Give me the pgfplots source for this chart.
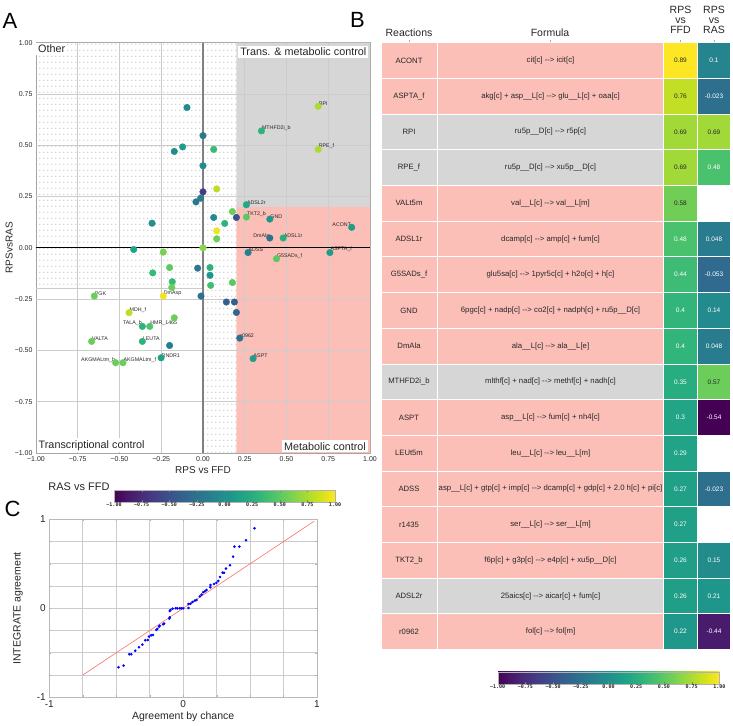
\documentclass[border=0pt]{standalone}
\usepackage{pgfplots}
\pgfplotsset{compat=1.18}
\usepackage{pgfplotstable}
\usepackage{fontspec}
\setmainfont{Liberation Sans}
\newfontfamily\cbfont{DejaVu Sans Mono}
\usetikzlibrary{patterns.meta}
\definecolor{salm}{RGB}{251,191,184}
\definecolor{lgr}{RGB}{214,214,214}
\definecolor{dk}{RGB}{38,38,38}
\definecolor{gridc}{RGB}{204,204,204}
\definecolor{dotc}{RGB}{135,135,135}
\tikzdeclarepattern{
  name=sdots, type=uncolored,
  bottom left={(0pt,0pt)}, top right={(4.3pt,6.3pt)},
  tile size={(4.3pt,6.3pt)},
  code={\pgfpathcircle{\pgfpoint{2.15pt}{3.15pt}}{0.55pt}\pgfusepath{fill}}
}
\pgfdeclareplotmark{namecell}{\pgfpathrectangle{\pgfpoint{-28pt}{-17.85pt}}{\pgfpoint{56pt}{35.7pt}}\pgfusepathqfillstroke}
\pgfdeclareplotmark{formcell}{\pgfpathrectangle{\pgfpoint{-113.5pt}{-17.85pt}}{\pgfpoint{227pt}{35.7pt}}\pgfusepathqfillstroke}
\pgfdeclareplotmark{heatcell}{\pgfpathrectangle{\pgfpoint{-16.6pt}{-17.85pt}}{\pgfpoint{33.2pt}{35.7pt}}\pgfusepathqfillstroke}
\newcommand{\ar}{-{}->}
\newcommand{\us}{\_\_}
\newcommand{\fs}[1]{\fontsize{#1}{#1}\selectfont}
\tikzset{lr/.style={anchor=south west, inner sep=0.4pt, font=\fs{5.3}, text=dk},
         ll/.style={anchor=south east, inner sep=0.4pt, font=\fs{5.3}, text=dk},
         rbox/.style={fill=white, inner sep=2pt, font=\fs{10.8}, text=dk},
         tn/.style={font=\fs{7.7}, text=dk},
         tf/.style={font=\fs{7.75}, text=dk, inner sep=0pt}}

\pgfplotstableread{
x y c
-0.096 0.684 -0.05
0.35 0.57 0.3
0.69 0.69 0.75
0.69 0.48 0.75
0.000 0.547 -0.2
-0.122 0.492 0.1
-0.172 0.470 -0.05
0.064 0.480 0.35
0.000 0.400 -0.05
0.000 0.273 -0.65
0.082 0.287 0.8
-0.014 0.242 -0.15
-0.042 0.224 -0.2
0.26 0.21 0.2
0.176 0.177 0.55
0.26 0.15 0.5
0.40 0.14 0.05
0.200 0.148 -0.5
0.064 0.148 -0.05
0.130 0.119 0.3
-0.305 0.120 0.0
0.082 0.083 0.95
0.082 0.044 0.55
0.89 0.10 0.1
0.40 0.048 -0.25
0.48 0.048 0.25
-0.415 -0.008 0.15
0.000 0.000 0.65
-0.238 -0.021 0.6
0.27 -0.023 -0.15
0.44 -0.053 0.5
0.76 -0.023 0.1
-0.032 -0.099 -0.2
0.042 -0.096 0.3
-0.200 -0.096 0.5
-0.301 -0.122 0.35
0.042 -0.134 0.05
-0.184 -0.165 0.35
-0.187 -0.193 0.55
0.046 -0.183 0.4
0.176 -0.169 0.5
-0.651 -0.235 0.55
-0.238 -0.235 0.95
-0.012 -0.235 -0.25
0.140 -0.264 -0.4
0.188 -0.264 -0.4
0.200 -0.315 -0.35
-0.443 -0.316 0.8
-0.172 -0.341 0.55
-0.363 -0.383 0.3
-0.319 -0.383 0.45
0.22 -0.44 -0.25
-0.667 -0.456 0.55
-0.363 -0.456 0.3
-0.200 -0.476 -0.15
0.30 -0.54 0.1
-0.251 -0.536 0.15
-0.523 -0.560 0.55
-0.479 -0.560 0.55
}\scatA

\pgfplotstableread{
x y
0.533 0.899
0.470 0.764
0.420 0.693
0.383 0.693
0.373 0.580
0.350 0.483
0.320 0.446
0.305 0.400
0.295 0.400
0.275 0.352
0.263 0.307
0.248 0.285
0.230 0.273
0.205 0.262
0.203 0.236
0.175 0.206
0.163 0.191
0.150 0.180
0.138 0.154
0.125 0.135
0.100 0.094
0.088 0.086
0.070 0.071
0.055 0.052
0.040 0.049
0.040 0.004
0.000 0.000
-0.013 0.000
-0.025 0.000
-0.043 0.000
-0.055 0.000
-0.078 -0.004
-0.095 -0.019
-0.100 -0.030
-0.100 -0.100
-0.103 -0.116
-0.143 -0.172
-0.150 -0.180
-0.175 -0.195
-0.180 -0.206
-0.193 -0.232
-0.200 -0.243
-0.225 -0.300
-0.238 -0.303
-0.255 -0.318
-0.265 -0.356
-0.283 -0.360
-0.305 -0.408
-0.330 -0.438
-0.358 -0.476
-0.388 -0.517
-0.403 -0.517
-0.445 -0.644
-0.483 -0.663
}\scatC

\pgfplotstableread{
xn xf y c
409 550.5 0 s
409 550.5 1 s
409 550.5 2 g
409 550.5 3 g
409 550.5 4 s
409 550.5 5 s
409 550.5 6 s
409 550.5 7 s
409 550.5 8 s
409 550.5 9 g
409 550.5 10 s
409 550.5 11 s
409 550.5 12 s
409 550.5 13 s
409 550.5 14 s
409 550.5 15 g
409 550.5 16 s
}\rows

% heat cells with dark text
\pgfplotstableread{
x y v lab
680.5 0 0.89 0.89
680.5 1 0.76 0.76
680.5 2 0.69 0.69
714 2 0.69 0.69
680.5 3 0.69 0.69
680.5 4 0.58 0.58
714 9 0.57 0.57
}\heatD

% heat cells with white text
\pgfplotstableread{
x y v lab
714 0 0.1 0.1
714 1 -0.023 -0.023
714 3 0.48 0.48
680.5 5 0.48 0.48
714 5 0.048 0.048
680.5 6 0.44 0.44
714 6 -0.053 -0.053
680.5 7 0.4 0.4
714 7 0.14 0.14
680.5 8 0.4 0.4
714 8 0.048 0.048
680.5 9 0.35 0.35
680.5 10 0.3 0.3
714 10 -0.54 -0.54
680.5 11 0.29 0.29
680.5 12 0.27 0.27
714 12 -0.023 -0.023
680.5 13 0.27 0.27
680.5 14 0.26 0.26
714 14 0.15 0.15
680.5 15 0.26 0.26
714 15 0.21 0.21
680.5 16 0.22 0.22
714 16 -0.44 -0.44
}\heatW

\begin{document}
\begin{tikzpicture}[x=1pt,y=1pt]
\useasboundingbox (0,0) rectangle (733,725);

% panel letters
\node[font=\fs{22}, text=black] at (10,704.5) {A};
\node[font=\fs{22}, text=black] at (357.5,705) {B};
\node[font=\fs{22}, text=black] at (12.5,216.5) {C};

% ---------------- Panel A ----------------
\begin{axis}[at={(36pt,272pt)}, anchor=south west, scale only axis,
  width=334pt, height=410.3pt,
  xmin=-1, xmax=1, ymin=-1, ymax=1,
  xtick={-1,-0.75,-0.5,-0.25,0,0.25,0.5,0.75,1},
  ytick={-1,-0.75,-0.5,-0.25,0,0.25,0.5,0.75,1},
  xticklabels={−1.00,−0.75,−0.50,−0.25,0.00,0.25,0.50,0.75,1.00},
  yticklabels={−1.00,−0.75,−0.50,−0.25,0.00,0.25,0.50,0.75,1.00},
  tick label style={font=\fs{7}, text=dk},
  major tick length=0pt,
  axis line style={gray!70, line width=0.8pt},
  xlabel={RPS vs FFD}, xlabel style={font=\fs{10}, text=dk, at={(axis description cs:0.5,-0.042)}, anchor=center},
  ylabel={RPSvsRAS}, ylabel style={font=\fs{10}, text=dk, at={(axis description cs:-0.08,0.5)}, anchor=center},
  colormap/viridis, point meta min=-1, point meta max=1]
\addplot[draw=none, fill=lgr, mark=none] coordinates {(0.2,0.2) (1,0.2) (1,1) (0.2,1) (0.2,0.2)};
\addplot[draw=none, fill=salm, mark=none] coordinates {(0.2,-1) (1,-1) (1,0.2) (0.2,0.2) (0.2,-1)};
\addplot[draw=none, pattern=sdots, pattern color=dotc, mark=none] coordinates {(-1,1) (0.2,1) (0.2,-1) (0,-1) (0,-0.2) (-1,-0.2) (-1,1)};
% grid lines
\addplot[gridc, line width=0.8pt, mark=none] coordinates {(-0.75,-1) (-0.75,1)};
\addplot[gridc, line width=0.8pt, mark=none] coordinates {(-0.5,-1) (-0.5,1)};
\addplot[gridc, line width=0.8pt, mark=none] coordinates {(-0.25,-1) (-0.25,1)};
\addplot[gridc, line width=0.8pt, mark=none] coordinates {(0.25,-1) (0.25,1)};
\addplot[gridc, line width=0.8pt, mark=none] coordinates {(0.5,-1) (0.5,1)};
\addplot[gridc, line width=0.8pt, mark=none] coordinates {(0.75,-1) (0.75,1)};
\addplot[gridc, line width=0.8pt, mark=none] coordinates {(-1,-0.75) (1,-0.75)};
\addplot[gridc, line width=0.8pt, mark=none] coordinates {(-1,-0.5) (1,-0.5)};
\addplot[gridc, line width=0.8pt, mark=none] coordinates {(-1,-0.25) (1,-0.25)};
\addplot[gridc, line width=0.8pt, mark=none] coordinates {(-1,0.25) (1,0.25)};
\addplot[gridc, line width=0.8pt, mark=none] coordinates {(-1,0.5) (1,0.5)};
\addplot[gridc, line width=0.8pt, mark=none] coordinates {(-1,0.75) (1,0.75)};
\addplot[gridc, line width=0.8pt, mark=none] coordinates {(-1,-0.2) (0,-0.2)};
\addplot[gray, line width=1.6pt, mark=none] coordinates {(0,-1) (0,1)};
\addplot[black, line width=0.8pt, mark=none] coordinates {(-1,0) (1,0)};
\node[rbox, anchor=north west] at (axis cs:-1,1) {Other};
\node[rbox, anchor=north east, xshift=-1.5pt, yshift=-3pt] at (axis cs:1,1) {Trans. \& metabolic control};
\node[rbox, anchor=south west, xshift=0.5pt, yshift=0.5pt] at (axis cs:-1,-1) {Transcriptional control};
\node[rbox, anchor=south east, xshift=-2pt, yshift=0.5pt] at (axis cs:1,-1) {Metabolic control};
\addplot[scatter, only marks, mark=*, mark size=3.3pt, point meta=explicit,
  scatter/use mapped color={draw=mapped color, fill=mapped color}] table[x=x, y=y, meta=c] {\scatA};
\node[lr] at (axis cs:0.69,0.69) {RPI};
\node[lr] at (axis cs:0.69,0.48) {RPE\_f};
\node[lr] at (axis cs:0.35,0.57) {MTHFD2i\_b};
\node[lr] at (axis cs:0.26,0.21) {ADSL2r};
\node[lr] at (axis cs:0.26,0.15) {TKT2\_b};
\node[lr] at (axis cs:0.40,0.14) {GND};
\node[lr] at (axis cs:0.48,0.048) {ADSL1r};
\node[lr] at (axis cs:0.27,-0.023) {ADSS};
\node[lr] at (axis cs:0.44,-0.053) {G5SADs\_f};
\node[lr] at (axis cs:0.76,-0.023) {ASPTA\_f};
\node[lr] at (axis cs:-0.651,-0.235) {PGK};
\node[lr] at (axis cs:-0.238,-0.235) {DmAsp};
\node[lr] at (axis cs:-0.443,-0.316) {MDH\_f};
\node[lr] at (axis cs:-0.319,-0.383) {HMR\_1465};
\node[lr] at (axis cs:0.22,-0.44) {r0962};
\node[lr] at (axis cs:-0.667,-0.456) {VALTA};
\node[lr] at (axis cs:-0.363,-0.456) {LEUTA};
\node[lr] at (axis cs:0.30,-0.54) {ASPT};
\node[lr] at (axis cs:-0.251,-0.536) {RNDR1};
\node[lr] at (axis cs:-0.479,-0.560) {AKGMALtm\_f};
\node[ll] at (axis cs:0.89,0.10) {ACONT};
\node[ll] at (axis cs:0.40,0.048) {DmAla};
\node[ll] at (axis cs:-0.363,-0.383) {TALA\_b};
\node[ll] at (axis cs:-0.523,-0.560) {AKGMALtm\_b};
\end{axis}

% colorbar A
\node[font=\fs{11}, text=dk] at (79,238) {RAS vs FFD};
\begin{axis}[at={(114pt,231.7pt)}, anchor=south west, scale only axis,
  width=221pt, height=11.6pt, hide axis, xmin=0, xmax=1, ymin=0, ymax=1,
  colormap/viridis, point meta min=-1, point meta max=1,
  colorbar horizontal,
  colorbar style={at={(parent axis.south west)}, anchor=south west,
    scale only axis, width=221pt, height=11.6pt,
    xtick={-1,-0.75,-0.5,-0.25,0,0.25,0.5,0.75,1},
    xticklabels={−1.00,−0.75,−0.50,−0.25,0.00,0.25,0.50,0.75,1.00},
    xticklabel style={font=\cbfont\bfseries\fs{5}, text=dk, inner sep=1pt},
    major tick length=1.5pt, axis line style={gray!60}}]
\addplot[draw=none, mark=none] coordinates {(0.5,0.5)};
\end{axis}

% ---------------- Panel B ----------------
\node[font=\fs{10.5}, text=dk] at (409,692) {Reactions};
\node[font=\fs{10.5}, text=dk] at (550,692) {Formula};
\node[font=\fs{10.5}, text=dk, align=center] at (680.5,705) {RPS\\[-0.5pt]vs\\[-0.5pt]FFD};
\node[font=\fs{10.5}, text=dk, align=center] at (714,705) {RPS\\[-0.5pt]vs\\[-0.5pt]RAS};
\draw[gray!70, line width=0.6pt] (409,682.3) -- (409,685) (550.5,682.3) -- (550.5,685)
  (680.5,682.3) -- (680.5,685) (714,682.3) -- (714,685);

\begin{axis}[at={(381pt,75.4pt)}, anchor=south west, scale only axis,
  width=350pt, height=606.9pt, hide axis, clip=false,
  xmin=381, xmax=731, ymin=-0.5, ymax=16.5, y dir=reverse,
  colormap/viridis, point meta min=-0.54, point meta max=0.89]
\addplot[scatter, only marks, mark=namecell, point meta=explicit symbolic,
  scatter/classes={s={fill=salm, draw=white}, g={fill=lgr, draw=white}},
  mark options={line width=1pt}] table[x=xn, y=y, meta=c] {\rows};
\addplot[scatter, only marks, mark=formcell, point meta=explicit symbolic,
  scatter/classes={s={fill=salm, draw=white}, g={fill=lgr, draw=white}},
  mark options={line width=1pt}] table[x=xf, y=y, meta=c] {\rows};
\addplot[scatter, only marks, mark=heatcell, point meta=explicit,
  scatter/use mapped color={draw=white, fill=mapped color},
  mark options={line width=1pt}] table[x=x, y=y, meta=v] {\heatD};
\addplot[scatter, only marks, mark=heatcell, point meta=explicit,
  scatter/use mapped color={draw=white, fill=mapped color},
  mark options={line width=1pt}] table[x=x, y=y, meta=v] {\heatW};
\addplot[only marks, mark=none, point meta=explicit symbolic, nodes near coords,
  every node near coord/.append style={anchor=center, font=\fs{6.5}, text=dk}]
  table[x=x, y=y, meta=lab] {\heatD};
\addplot[only marks, mark=none, point meta=explicit symbolic, nodes near coords,
  every node near coord/.append style={anchor=center, font=\fs{6.5}, text=white}]
  table[x=x, y=y, meta=lab] {\heatW};
\end{axis}

% table text (reaction names and formulas)
\node[tn] at (409,664.45) {ACONT};
\node[tn] at (409,628.75) {ASPTA\_f};
\node[tn] at (409,593.05) {RPI};
\node[tn] at (409,557.35) {RPE\_f};
\node[tn] at (409,521.65) {VALt5m};
\node[tn] at (409,485.95) {ADSL1r};
\node[tn] at (409,450.25) {G5SADs\_f};
\node[tn] at (409,414.55) {GND};
\node[tn] at (409,378.85) {DmAla};
\node[tn] at (409,343.15) {MTHFD2i\_b};
\node[tn] at (409,307.45) {ASPT};
\node[tn] at (409,271.75) {LEUt5m};
\node[tn] at (409,236.05) {ADSS};
\node[tn] at (409,200.35) {r1435};
\node[tn] at (409,164.65) {TKT2\_b};
\node[tn] at (409,128.95) {ADSL2r};
\node[tn] at (409,93.25) {r0962};
\node[tf] at (550.5,664.45) {cit[c] \ar{} icit[c]};
\node[tf] at (550.5,628.75) {akg[c] + asp\us L[c] \ar{} glu\us L[c] + oaa[c]};
\node[tf] at (550.5,593.05) {ru5p\us D[c] \ar{} r5p[c]};
\node[tf] at (550.5,557.35) {ru5p\us D[c] \ar{} xu5p\us D[c]};
\node[tf] at (550.5,521.65) {val\us L[c] \ar{} val\us L[m]};
\node[tf] at (550.5,485.95) {dcamp[c] \ar{} amp[c] + fum[c]};
\node[tf] at (550.5,450.25) {glu5sa[c] \ar{} 1pyr5c[c] + h2o[c] + h[c]};
\node[tf] at (550.5,414.55) {6pgc[c] + nadp[c] \ar{} co2[c] + nadph[c] + ru5p\us D[c]};
\node[tf] at (550.5,378.85) {ala\us L[c] \ar{} ala\us L[e]};
\node[tf] at (550.5,343.15) {mlthf[c] + nad[c] \ar{} methf[c] + nadh[c]};
\node[tf] at (550.5,307.45) {asp\us L[c] \ar{} fum[c] + nh4[c]};
\node[tf] at (550.5,271.75) {leu\us L[c] \ar{} leu\us L[m]};
\node[tf] at (550.5,236.05) {asp\us L[c] + gtp[c] + imp[c] \ar{} dcamp[c] + gdp[c] + 2.0 h[c] + pi[c]};
\node[tf] at (550.5,200.35) {ser\us L[c] \ar{} ser\us L[m]};
\node[tf] at (550.5,164.65) {f6p[c] + g3p[c] \ar{} e4p[c] + xu5p\us D[c]};
\node[tf] at (550.5,128.95) {25aics[c] \ar{} aicar[c] + fum[c]};
\node[tf] at (550.5,93.25) {fol[c] \ar{} fol[m]};

% colorbar B
\begin{axis}[at={(497.7pt,49.7pt)}, anchor=south west, scale only axis,
  width=221.6pt, height=12pt, hide axis, xmin=0, xmax=1, ymin=0, ymax=1,
  colormap/viridis, point meta min=-1, point meta max=1,
  colorbar horizontal,
  colorbar style={at={(parent axis.south west)}, anchor=south west,
    scale only axis, width=221.6pt, height=12pt,
    xtick={-1,-0.75,-0.5,-0.25,0,0.25,0.5,0.75,1},
    xticklabels={−1.00,−0.75,−0.50,−0.25,0.00,0.25,0.50,0.75,1.00},
    xticklabel style={font=\cbfont\bfseries\fs{5}, text=dk, inner sep=1pt},
    major tick length=1.5pt, axis line style={gray!60}}]
\addplot[draw=none, mark=none] coordinates {(0.5,0.5)};
\end{axis}

% ---------------- Panel C ----------------
\begin{axis}[at={(49.3pt,27.7pt)}, anchor=south west, scale only axis,
  width=267.7pt, height=178pt,
  xmin=-1, xmax=1, ymin=-1, ymax=1,
  xtick={-1,0,1}, ytick={-1,0,1}, xticklabels={-1,0,1}, yticklabels={-1,0,1},
  minor tick num=3, grid=both,
  grid style={gridc, line width=0.6pt}, minor grid style={gridc, line width=0.6pt},
  tick label style={font=\fs{10}, text=dk},
  major tick length=2pt, minor tick length=2pt, tick style={gray!60},
  axis line style={gray!55},
  xlabel={Agreement by chance}, ylabel={INTEGRATE agreement},
  xlabel style={font=\fs{10.5}, text=dk, at={(axis description cs:0.5,-0.111)}, anchor=center},
  ylabel style={font=\fs{10.5}, text=dk, at={(axis description cs:-0.117,0.5)}, anchor=center}]
\addplot[color={rgb,255:red,250;green,110;blue,110}, line width=0.6pt, mark=none] coordinates {(-0.75,-0.75) (0.98,0.98)};
\addplot[only marks, mark=*, mark size=1.1pt, color=blue, mark options={draw=blue, fill=blue}] table[x=x, y=y] {\scatC};
\end{axis}
\end{tikzpicture}
\end{document}
